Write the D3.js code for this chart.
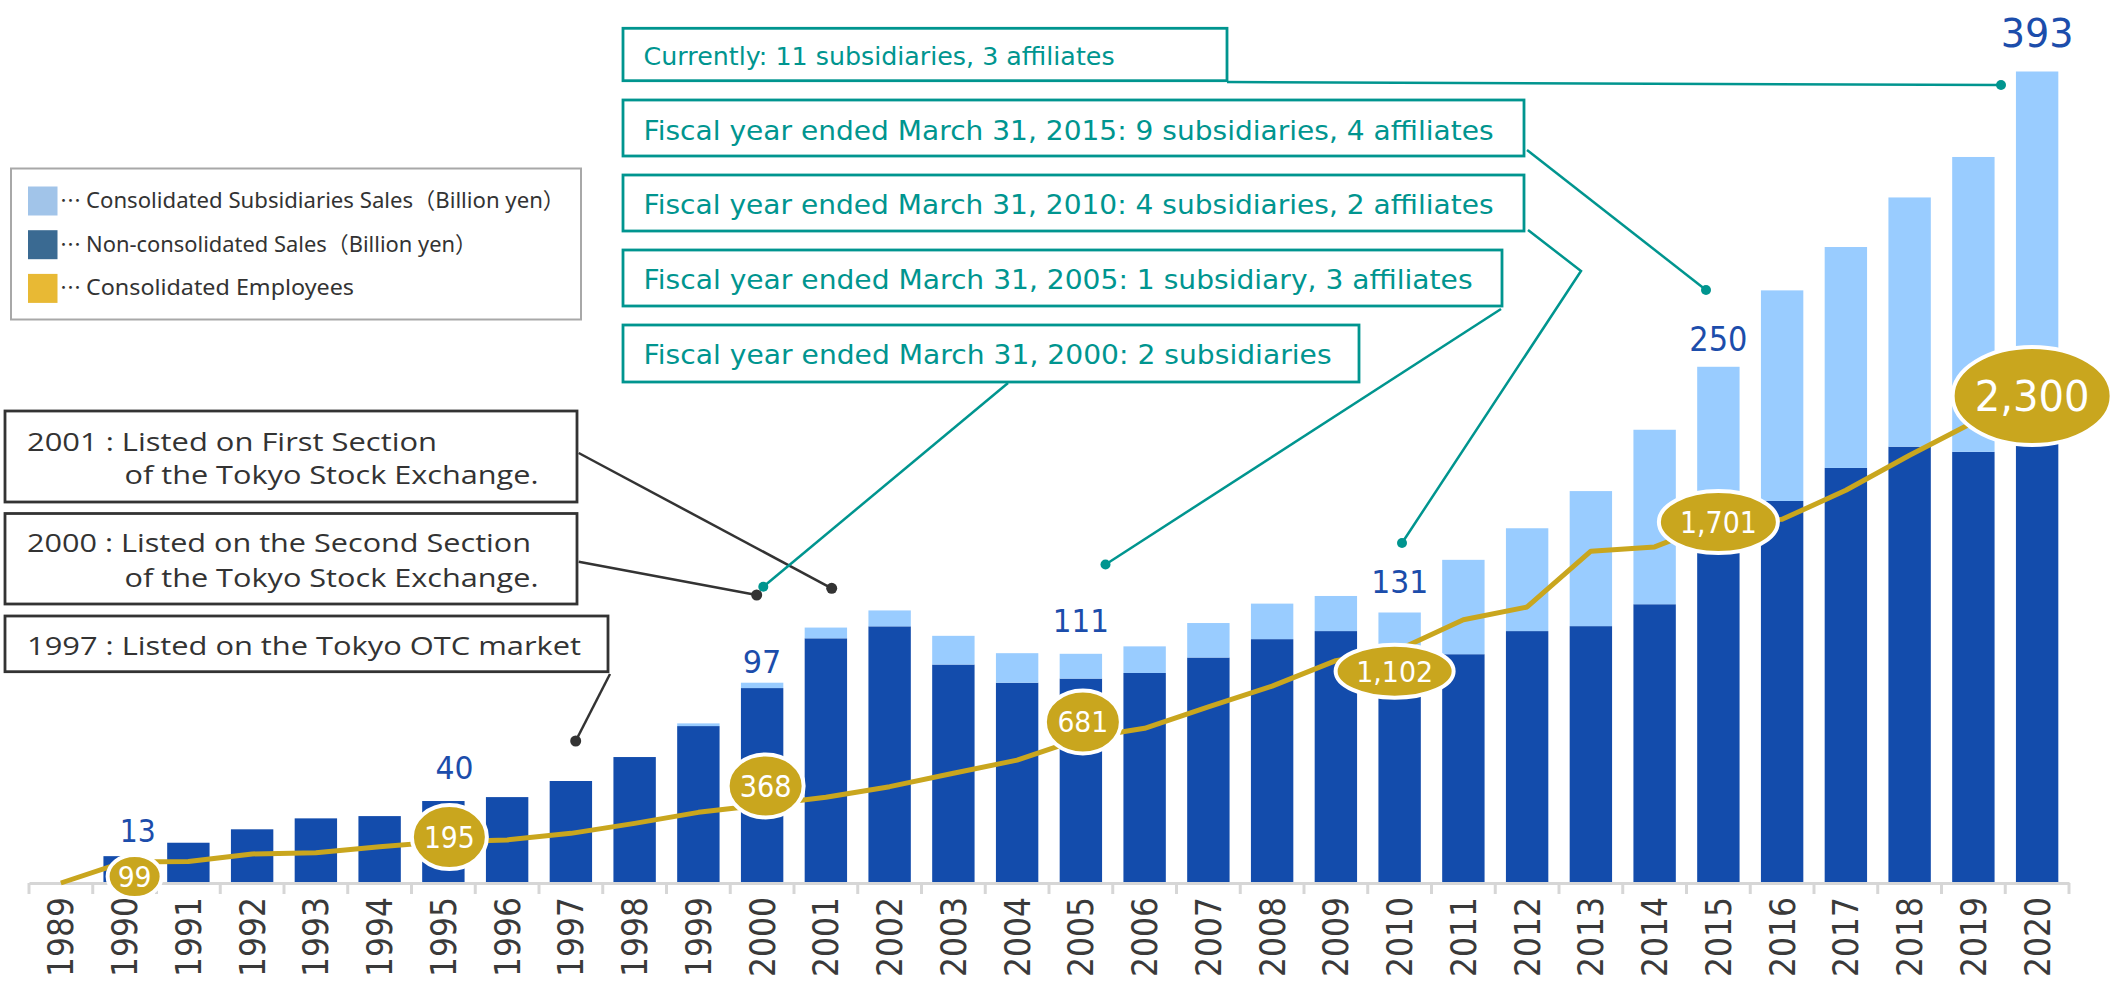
<!DOCTYPE html>
<html>
<head>
<meta charset="utf-8">
<script src="https://cdnjs.cloudflare.com/ajax/libs/d3/7.8.5/d3.min.js"></script>
<style>
  body { margin: 0; background: #fff; }
  svg { display: block; }
</style>
</head>
<body>
<svg id="chart" width="2114" height="984"></svg>
<script>
// fiscal years (tick labels)
const years = ['1989', '1990', '1991', '1992', '1993', '1994', '1995', '1996', '1997', '1998',
  '1999', '2000', '2001', '2002', '2003', '2004', '2005', '2006', '2007', '2008',
  '2009', '2010', '2011', '2012', '2013', '2014', '2015', '2016', '2017', '2018',
  '2019', '2020'];

// non-consolidated sales (billion yen)
const nonConsolidated = [0, 13, 19.5, 26, 31.3, 32.4, 39.7, 41.6, 49.4, 61,
  76, 94.4, 118.5, 124.3, 105.8, 97, 99, 101.7, 109.2, 118.1,
  122, 108, 110.8, 122, 124.4, 135, 165, 185, 201, 211.3,
  208.8, 213];

// consolidated sales = non-consolidated + subsidiaries (billion yen)
const totalSales = [0, 13, 19.5, 26, 31.3, 32.4, 39.7, 41.6, 49.4, 61,
  77.3, 97, 123.7, 132, 119.7, 111.3, 111, 114.6, 125.9, 135.3,
  139, 131, 156.5, 171.8, 189.8, 219.5, 250, 287, 308, 332,
  351.6, 393];

// consolidated employees
const employees = [0, 99, 101, 137, 143, 171, 195, 203, 234, 281,
  333, 368, 404, 454, 517, 579, 681, 729, 830, 928,
  1048, 1102, 1241, 1301, 1564, 1584, 1701, 1714, 1851, 2016,
  2172, 2300];

// years that get a sales figure and an employee bubble
const labelYears = ['1990', '1995', '2000', '2005', '2010', '2015', '2020'];

const legendItems = [
  { label: 'Consolidated Subsidiaries Sales（Billion yen）', color: '#a1c4e9', w: 479 },
  { label: 'Non-consolidated Sales（Billion yen）', color: '#3a6a92', w: 391 },
  { label: 'Consolidated Employees', color: '#e8b934', w: 268 }
];

const listingNotes = [
  { lines: ['2001 : Listed on First Section', 'of the Tokyo Stock Exchange.'] },
  { lines: ['2000 : Listed on the Second Section', 'of the Tokyo Stock Exchange.'] },
  { lines: ['1997 : Listed on the Tokyo OTC market'] }
];

const groupNotes = [
  'Currently: 11 subsidiaries, 3 affiliates',
  'Fiscal year ended March 31, 2015: 9 subsidiaries, 4 affiliates',
  'Fiscal year ended March 31, 2010: 4 subsidiaries, 2 affiliates',
  'Fiscal year ended March 31, 2005: 1 subsidiary, 3 affiliates',
  'Fiscal year ended March 31, 2000: 2 subsidiaries'
];

const DARK = '#134cac', LIGHT = '#99ccff', GOLD = '#c9a61e', TEAL = '#00958f',
  INK = '#333333', LABEL_BLUE = '#1c4dab';

let svg = d3.select('#chart'),
  width = +svg.attr('width'),
  height = +svg.attr('height');

svg.append('rect').attr('width', width).attr('height', height).attr('fill', '#fff');

const x = d3.scaleBand()
  .domain(years)
  .range([29, 2069])
  .paddingInner(0.335)
  .paddingOuter(0.1675);

const ySales = d3.scaleLinear().domain([0, 393]).range([883, 71.5]);
const yEmp = d3.scaleLinear().domain([0, 2300]).range([883, 395]);

const cx = d => x(d) + x.bandwidth() / 2;

// ---- bars
let bars = svg.append('g').attr('class', 'bars');

bars.selectAll('rect.non')
  .data(years)
  .enter()
  .append('rect')
  .attr('class', 'non')
  .attr('x', d => x(d))
  .attr('width', x.bandwidth())
  .attr('y', (d, i) => ySales(nonConsolidated[i]))
  .attr('height', (d, i) => ySales(0) - ySales(nonConsolidated[i]))
  .attr('fill', DARK);

bars.selectAll('rect.sub')
  .data(years)
  .enter()
  .append('rect')
  .attr('class', 'sub')
  .attr('x', d => x(d))
  .attr('width', x.bandwidth())
  .attr('y', (d, i) => ySales(totalSales[i]))
  .attr('height', (d, i) => ySales(nonConsolidated[i]) - ySales(totalSales[i]))
  .attr('fill', LIGHT);

// ---- x axis
let gx = svg.append('g')
  .attr('transform', 'translate(0,' + ySales(0) + ')')
  .call(d3.axisBottom(x).tickSize(0).tickSizeOuter(0));

gx.select('.domain').attr('stroke', '#d6d6d6').attr('stroke-width', 3);

gx.selectAll('text')
  .attr('transform', 'rotate(-90)')
  .attr('text-anchor', 'end')
  .attr('x', -14)
  .attr('y', 0)
  .attr('dy', '0.36em')
  .attr('textLength', 80)
  .attr('lengthAdjust', 'spacingAndGlyphs')
  .attr('fill', '#3a3a3a')
  .style('font-family', '"DejaVu Sans", Verdana, sans-serif')
  .style('font-size', '35px');

const gap = x.step() - x.bandwidth();
const bounds = years.map(d => x(d) - gap / 2).concat([x(years[years.length - 1]) + x.bandwidth() + gap / 2]);

gx.selectAll('line.sep')
  .data(bounds)
  .enter()
  .append('line')
  .attr('class', 'sep')
  .attr('x1', d => d).attr('x2', d => d)
  .attr('y1', 0).attr('y2', 11)
  .attr('stroke', '#d6d6d6')
  .attr('stroke-width', 3);

// ---- employees line
const line = d3.line()
  .x((d, i) => cx(years[i]))
  .y(d => yEmp(d));

svg.append('path')
  .datum(employees)
  .attr('d', line)
  .attr('fill', 'none')
  .attr('stroke', GOLD)
  .attr('stroke-width', 5)
  .attr('stroke-linejoin', 'round');

// ---- legend
let legend = svg.append('g').attr('class', 'legend');
legend.append('rect')
  .attr('x', 11).attr('y', 168.5).attr('width', 570).attr('height', 151)
  .attr('fill', '#fff').attr('stroke', '#a8a8a8').attr('stroke-width', 2);

let li = legend.selectAll('g.item')
  .data(legendItems)
  .enter()
  .append('g')
  .attr('class', 'item')
  .attr('transform', (d, i) => 'translate(0,' + (i * 43.7) + ')');

li.append('rect')
  .attr('x', 28).attr('y', 186.5).attr('width', 29.5).attr('height', 29)
  .attr('fill', d => d.color);

li.append('text')
  .attr('x', 60).attr('y', 208)
  .attr('fill', INK)
  .style('font-family', '"Noto Sans CJK JP", sans-serif')
  .style('font-size', '21px')
  .text('…');

li.append('text')
  .attr('x', 86).attr('y', 208)
  .attr('fill', INK)
  .attr('textLength', d => d.w)
  .attr('lengthAdjust', 'spacingAndGlyphs')
  .style('font-family', '"Noto Sans", "Noto Sans CJK JP", sans-serif')
  .style('font-size', '22px')
  .text(d => d.label);

// ---- listing notes (black)
const blackBoxes = [
  { x: 5, y: 411, w: 572, h: 91, tx: [[27, 450.5, 410], [124.5, 484, 414]],
    leader: [[578.7, 453], [831.7, 588.3]] },
  { x: 5, y: 513.5, w: 572, h: 90.5, tx: [[27, 552, 504], [124.5, 586.5, 414]],
    leader: [[578.7, 561.7], [756.7, 595]] },
  { x: 5, y: 616, w: 603, h: 55.7, tx: [[27, 655, 554]],
    leader: [[610, 674], [575.7, 741]] }
];

let notes = svg.append('g').attr('class', 'listing');
listingNotes.forEach((n, k) => {
  const b = blackBoxes[k];
  notes.append('rect')
    .attr('x', b.x).attr('y', b.y).attr('width', b.w).attr('height', b.h)
    .attr('fill', '#fff').attr('stroke', INK).attr('stroke-width', 2.8);
  n.lines.forEach((t, j) => {
    notes.append('text')
      .attr('x', b.tx[j][0]).attr('y', b.tx[j][1])
      .attr('textLength', b.tx[j][2])
      .attr('lengthAdjust', 'spacingAndGlyphs')
      .attr('fill', INK)
      .style('font-family', '"Open Sans", sans-serif')
      .style('font-size', '25px')
      .text(t);
  });
  notes.append('path')
    .attr('d', d3.line()(b.leader))
    .attr('fill', 'none').attr('stroke', INK).attr('stroke-width', 2.5);
  const end = b.leader[b.leader.length - 1];
  notes.append('circle').attr('cx', end[0]).attr('cy', end[1]).attr('r', 5.5).attr('fill', INK);
});

// ---- group notes (teal)
const tealBoxes = [
  { y: 28.3, w: 604, h: 52.4, fs: 24, tw: 471, ty: 65,
    leader: [[1227, 82], [2001, 85]] },
  { y: 100, w: 901, h: 56, fs: 27, tw: 850, ty: 139.5,
    leader: [[1527, 150], [1706, 290]] },
  { y: 175, w: 901, h: 56, fs: 27, tw: 850, ty: 214,
    leader: [[1528, 230], [1581, 271], [1402, 543]] },
  { y: 250, w: 879, h: 56, fs: 27, tw: 829, ty: 289,
    leader: [[1501, 309], [1105.5, 564.5]] },
  { y: 325, w: 736, h: 57, fs: 27, tw: 688, ty: 364,
    leader: [[1008, 383], [763.3, 586.7]] }
];

let tg = svg.append('g').attr('class', 'group-notes');
groupNotes.forEach((t, k) => {
  const b = tealBoxes[k];
  tg.append('path')
    .attr('d', d3.line()(b.leader))
    .attr('fill', 'none').attr('stroke', TEAL).attr('stroke-width', 2.5);
  const end = b.leader[b.leader.length - 1];
  tg.append('circle').attr('cx', end[0]).attr('cy', end[1]).attr('r', 5).attr('fill', TEAL);
  tg.append('rect')
    .attr('x', 623).attr('y', b.y).attr('width', b.w).attr('height', b.h)
    .attr('fill', '#fff').attr('stroke', TEAL).attr('stroke-width', 2.8);
  tg.append('text')
    .attr('x', 643.6).attr('y', b.ty)
    .attr('textLength', b.tw)
    .attr('lengthAdjust', 'spacingAndGlyphs')
    .attr('fill', TEAL)
    .style('font-family', '"DejaVu Sans", sans-serif')
    .style('font-size', b.fs + 'px')
    .text(t);
});

// ---- sales figures above bars
const salesLabelStyle = {
  '1990': { dx: 13, gap: 14, fs: 32, cw: 18 },
  '1995': { dx: 11, gap: 22, fs: 32, cw: 19 },
  '2000': { dx: 0, gap: 10, fs: 32, cw: 19.3 },
  '2005': { dx: 0, gap: 22, fs: 32, cw: 18.7 },
  '2010': { dx: 0, gap: 20, fs: 32, cw: 19 },
  '2015': { dx: 0, gap: 16, fs: 34, cw: 19.4 },
  '2020': { dx: 0, gap: 25, fs: 39, cw: 24.3 }
};

svg.append('g')
  .selectAll('text')
  .data(labelYears)
  .enter()
  .append('text')
  .attr('x', d => cx(d) + salesLabelStyle[d].dx)
  .attr('y', d => ySales(totalSales[years.indexOf(d)]) - salesLabelStyle[d].gap)
  .attr('text-anchor', 'middle')
  .attr('textLength', d => String(Math.round(totalSales[years.indexOf(d)])).length * salesLabelStyle[d].cw)
  .attr('lengthAdjust', 'spacingAndGlyphs')
  .attr('fill', LABEL_BLUE)
  .style('font-family', '"DejaVu Sans", sans-serif')
  .style('font-size', d => salesLabelStyle[d].fs + 'px')
  .text(d => Math.round(totalSales[years.indexOf(d)]));

// ---- employee bubbles
const bubbleStyle = {
  '1990': { dx: 10, dy: 14.5, rx: 27, ry: 21.5, fs: 29, tw: 34 },
  '1995': { dx: 6, dy: -4.6, rx: 37.5, ry: 32, fs: 30, tw: 51 },
  '2000': { dx: 3.5, dy: -19, rx: 38, ry: 31.5, fs: 30, tw: 52 },
  '2005': { dx: 2, dy: -16.5, rx: 38, ry: 31.5, fs: 29, tw: 51 },
  '2010': { dx: -5, dy: 22, rx: 59, ry: 26.5, fs: 29, tw: 77 },
  '2015': { dx: 0, dy: 0, rx: 59.5, ry: 31, fs: 30, tw: 77 },
  '2020': { dx: -5, dy: 1, rx: 79.5, ry: 49, fs: 42, tw: 115 }
};

let bubbles = svg.append('g')
  .attr('class', 'bubbles')
  .selectAll('g')
  .data(labelYears)
  .enter()
  .append('g')
  .attr('transform', d => {
    const s = bubbleStyle[d];
    return 'translate(' + (cx(d) + s.dx) + ',' + (yEmp(employees[years.indexOf(d)]) + s.dy) + ')';
  });

bubbles.append('ellipse')
  .attr('rx', d => bubbleStyle[d].rx)
  .attr('ry', d => bubbleStyle[d].ry)
  .attr('fill', GOLD)
  .attr('stroke', '#fff')
  .attr('stroke-width', 4);

bubbles.append('text')
  .attr('text-anchor', 'middle')
  .attr('dy', '0.36em')
  .attr('textLength', d => bubbleStyle[d].tw)
  .attr('lengthAdjust', 'spacingAndGlyphs')
  .attr('fill', '#fff')
  .style('font-family', '"DejaVu Sans", sans-serif')
  .style('font-size', d => bubbleStyle[d].fs + 'px')
  .text(d => d3.format(',')(employees[years.indexOf(d)]));
</script>
</body>
</html>
